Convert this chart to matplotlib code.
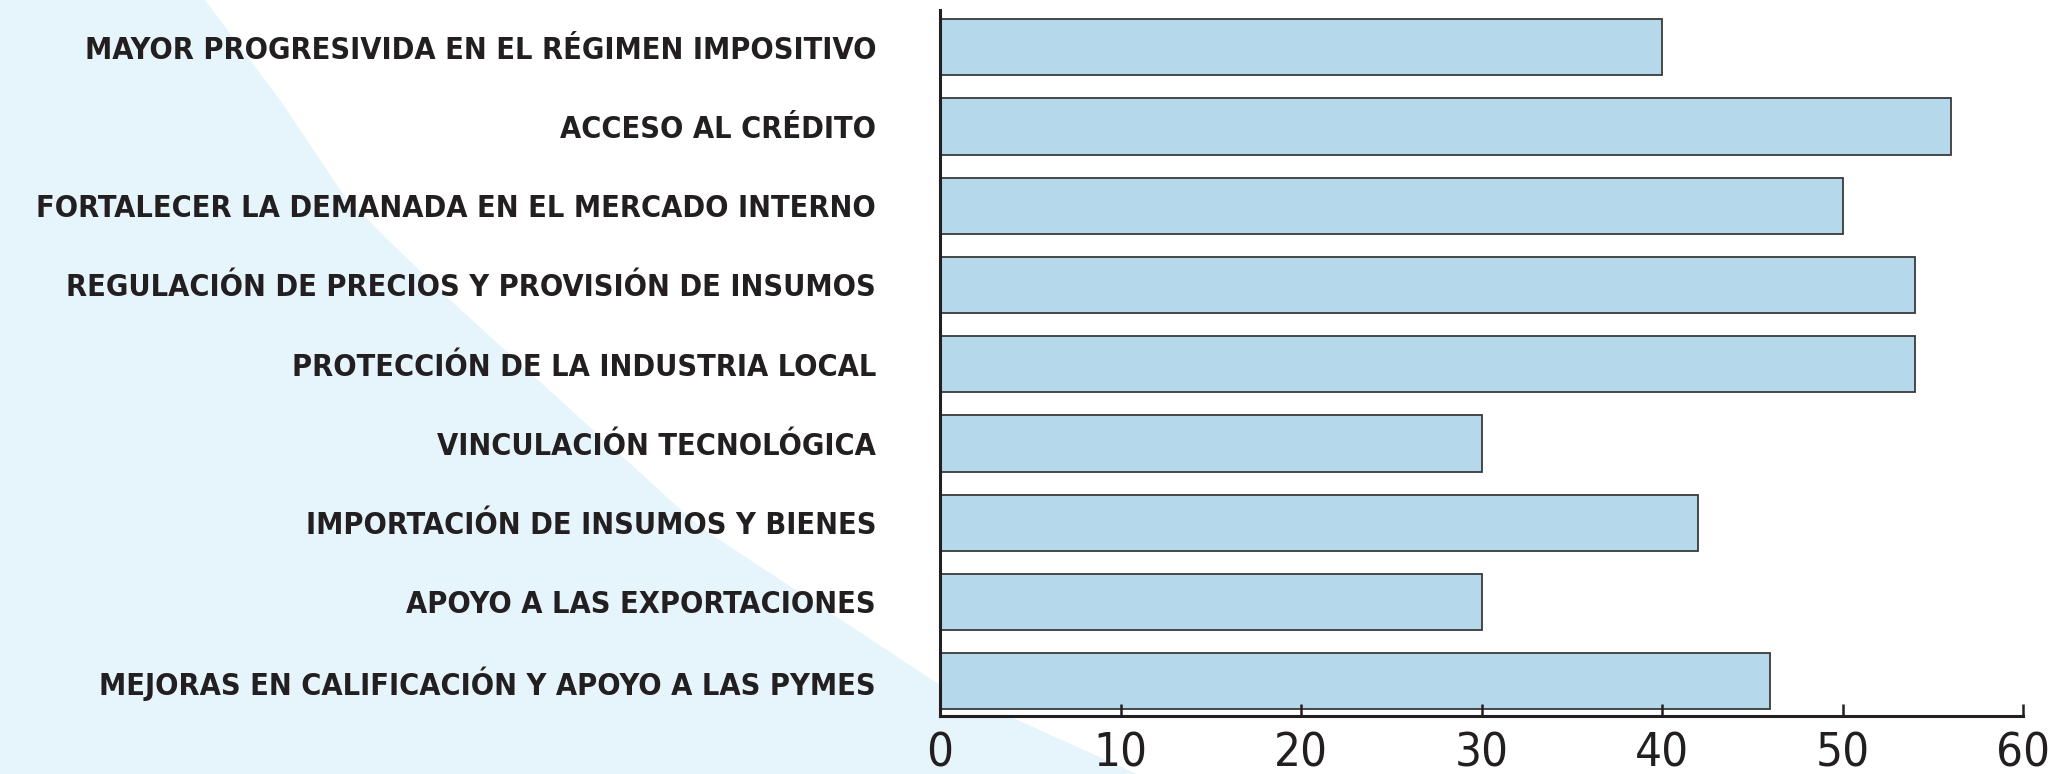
import numpy as np
import matplotlib.pyplot as plt
from matplotlib.patches import Polygon

# data (top to bottom as shown)
categorias = [
    'MAYOR PROGRESIVIDA EN EL RÉGIMEN IMPOSITIVO',
    'ACCESO AL CRÉDITO',
    'FORTALECER LA DEMANADA EN EL MERCADO INTERNO',
    'REGULACIÓN DE PRECIOS Y PROVISIÓN DE INSUMOS',
    'PROTECCIÓN DE LA INDUSTRIA LOCAL',
    'VINCULACIÓN TECNOLÓGICA',
    'IMPORTACIÓN DE INSUMOS Y BIENES',
    'APOYO A LAS EXPORTACIONES',
    'MEJORAS EN CALIFICACIÓN Y APOYO A LAS PYMES',
]
valores = [40, 56, 50, 54, 54, 30, 42, 30, 46]
ticks_x = [0, 10, 20, 30, 40, 50, 60]

texto = '#231f20'

W, H = 2056, 774
fig = plt.figure(figsize=(W / 100, H / 100), dpi=100)

# light blue decorative background on the left (own axes, behind everything)
bg = fig.add_axes([0, 0, 1, 1], zorder=-1)
bg.set_xlim(0, W)
bg.set_ylim(H, 0)
bg.axis('off')
pts = [(0, 0), (205, 0), (280, 100), (347, 200), (450, 300), (560, 400),
       (700, 527), (940, 685), (1137, 774), (0, 774)]
bg.add_patch(Polygon(pts, closed=True, facecolor='#e6f4fb', edgecolor='none'))

ax = fig.add_axes([940 / W, 1 - 716 / H, (2023 - 940) / W, (716 - 10) / H])
ax.set_facecolor('white')

y = np.arange(len(categorias))[::-1]
ax.barh(y, valores, height=0.71, color='#b5d9ea', edgecolor='#3a3a3a',
        linewidth=1.3)

ax.set_xlim(0, 60)
ax.set_ylim(-0.44, 8.47)
ax.set_xticks(ticks_x)
ax.set_yticks(y)
ax.set_yticklabels(categorias, family='DejaVu Sans', fontstretch='condensed',
                   fontweight='bold', fontsize=22, color=texto)
ax.set_xticklabels([str(t) for t in ticks_x], family='DejaVu Sans',
                   fontstretch='condensed', fontsize=34, color=texto)

ax.tick_params(axis='y', length=0, pad=46)
ax.tick_params(axis='x', direction='in', length=9, width=1.8, pad=11,
               color=texto)

for s in ['top', 'right']:
    ax.spines[s].set_visible(False)
for s in ['left', 'bottom']:
    ax.spines[s].set_linewidth(2.2)
    ax.spines[s].set_color(texto)

fig.savefig('out.png', dpi=100)
